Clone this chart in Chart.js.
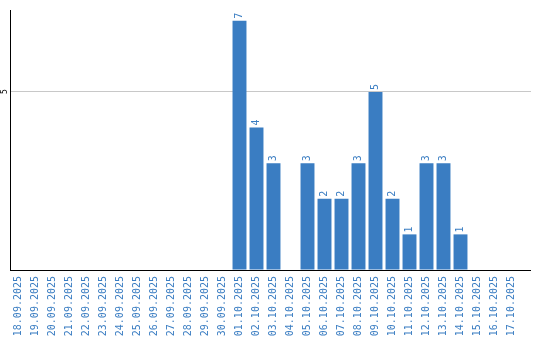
<!DOCTYPE html>
<html>
<head>
<meta charset="utf-8">
<script src="https://cdn.jsdelivr.net/npm/chart.js@4"></script>
<style>
  html, body { margin: 0; padding: 0; background: #fff; }
  #wrap { width: 540px; height: 340px; }
</style>
</head>
<body>
<div id="wrap"><canvas id="chart"></canvas></div>
<script>
// Dati del grafico
const days = [
    '18.09.2025', '19.09.2025', '20.09.2025', '21.09.2025', '22.09.2025',
    '23.09.2025', '24.09.2025', '25.09.2025', '26.09.2025', '27.09.2025',
    '28.09.2025', '29.09.2025', '30.09.2025', '01.10.2025', '02.10.2025',
    '03.10.2025', '04.10.2025', '05.10.2025', '06.10.2025', '07.10.2025',
    '08.10.2025', '09.10.2025', '10.10.2025', '11.10.2025', '12.10.2025',
    '13.10.2025', '14.10.2025', '15.10.2025', '16.10.2025', '17.10.2025'
];
const counts = [
    0, 0, 0, 0, 0, 0, 0, 0, 0, 0, 0, 0, 0,
    7, 4, 3, 0, 3, 2, 2, 3, 5, 2, 1, 3, 3, 1,
    0, 0, 0
];
const yTicks = [5];
const yMax = 7.3;

const blue = '#3a7dc2';
const mono = '"DejaVu Sans Mono", monospace';

// allineamento come Chart.js (linee da 1px)
const align = p => Math.round(p - 0.5) + 0.5;

// Etichette: valori sulle barre, tick asse y ruotato
const labelsPlugin = {
    id: 'labels',
    afterDatasetsDraw(chart) {
        const ctx = chart.ctx;
        const meta = chart.getDatasetMeta(0);
        ctx.save();
        ctx.fillStyle = blue;
        ctx.font = '10px ' + mono;
        ctx.textAlign = 'left';
        ctx.textBaseline = 'middle';
        meta.data.forEach((bar, i) => {
            if (!counts[i]) return;
            ctx.save();
            ctx.translate(bar.x, bar.y - 2);
            ctx.rotate(-Math.PI / 2);
            ctx.fillText(String(counts[i]), 0, 0);
            ctx.restore();
        });

        const y = chart.scales.y;
        const area = chart.chartArea;
        ctx.font = '8px ' + mono;
        ctx.textAlign = 'center';
        yTicks.forEach(v => {
            const py = align(y.getPixelForValue(v));
            ctx.fillStyle = '#000';
            ctx.save();
            ctx.translate(5, py);
            ctx.rotate(-Math.PI / 2);
            ctx.fillText(String(v), 0, 0);
            ctx.restore();
            // prolungamento griglia
            ctx.strokeStyle = '#c8c8c8';
            ctx.lineWidth = 1;
            ctx.beginPath();
            ctx.moveTo(area.right, py);
            ctx.lineTo(area.right + 11, py);
            ctx.stroke();
        });

        // prolungamento asse x
        const by = align(area.bottom);
        ctx.strokeStyle = '#000';
        ctx.lineWidth = 1;
        ctx.beginPath();
        ctx.moveTo(area.right, by);
        ctx.lineTo(area.right + 11, by);
        ctx.stroke();
        ctx.restore();
    }
};

new Chart(document.getElementById('chart'), {
    type: 'bar',
    data: {
        labels: days,
        datasets: [{
            data: counts,
            backgroundColor: blue,
            borderWidth: 0,
            barPercentage: 0.82,
            categoryPercentage: 1
        }]
    },
    options: {
        responsive: true,
        maintainAspectRatio: false,
        animation: false,
        layout: { padding: { top: 10, right: 20, left: 0, bottom: 0 } },
        plugins: {
            legend: { display: false },
            tooltip: { enabled: false }
        },
        scales: {
            x: {
                grid: { display: false, drawTicks: false },
                border: { display: true, color: '#000', width: 1 },
                ticks: {
                    color: blue,
                    font: { family: mono, size: 10 },
                    minRotation: 90,
                    maxRotation: 90,
                    padding: 6,
                    autoSkip: false
                },
                afterFit(scale) { scale.height = 70; }
            },
            y: {
                min: 0,
                max: yMax,
                afterBuildTicks(scale) {
                    scale.ticks = [0].concat(yTicks).map(v => ({ value: v }));
                },
                ticks: { display: false },
                grid: {
                    drawTicks: false,
                    color: c => (c.tick && c.tick.value === 5) ? '#c8c8c8' : 'rgba(0,0,0,0)'
                },
                border: { display: true, color: '#000', width: 1 },
                afterFit(scale) { scale.width = 10; }
            }
        }
    },
    plugins: [labelsPlugin]
});
</script>
</body>
</html>
